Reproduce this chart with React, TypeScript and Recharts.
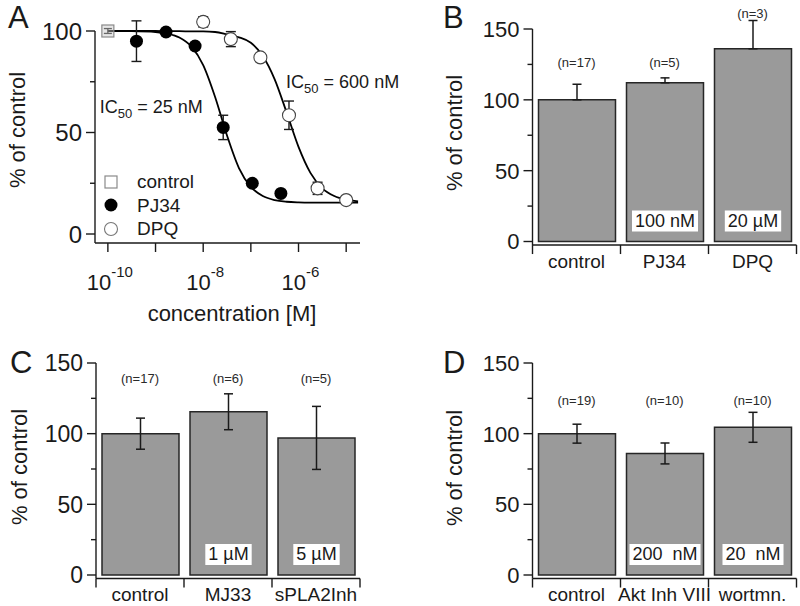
import {
  ComposedChart,
  BarChart,
  Bar,
  Line,
  Scatter,
  XAxis,
  YAxis,
  ErrorBar,
  ReferenceLine,
  ReferenceDot,
  LabelList,
  Legend,
} from "recharts";

const FONT = '"Liberation Sans", Arial, Helvetica, sans-serif';
const INK = "#1a1a1a";

// ---- panel A: concentration-response, x is log10 of molar concentration ----
const controlLogConc = [-10];
const controlPct = [100];
const controlErr = [1.2];

const pj34LogConc = [-9.4, -8.78, -8.17, -7.58, -6.97, -6.37];
const pj34Pct = [95, 99.5, 92.6, 52.5, 25, 20];
const pj34Err = [10, null, null, 6, null, null];

const dpqLogConc = [-8.0, -7.42, -6.8, -6.2, -5.6, -5.0];
const dpqPct = [104.5, 96, 87, 58.5, 22.5, 16.7];
const dpqErr = [2.5, 3.7, null, 7, 3, null];

// fitted curves
const fitLogConc = [-10, -9.5, -9, -8.75, -8.5, -8.25, -8, -7.75, -7.5, -7.25, -7, -6.75, -6.5, -6.25, -6, -5.75, -5.5, -5.25, -5, -4.75];
const pj34Fit = [100, 99.9, 99.5, 98.7, 96.8, 92.4, 83.2, 67.5, 48.5, 32.5, 23.2, 18.7, 16.7, 15.9, 15.6, 15.5, 15.5, 15.5, 15.5, 15.5];
const dpqFit = [100, 100, 100, 99.9, 99.9, 99.8, 99.8, 99.5, 98.3, 96.9, 94.2, 87.7, 76.2, 59.9, 42.9, 30.1, 22.5, 18.7, 16.9, 16.1];

const decadeTicks = [-10, -9, -8, -7, -6, -5];
const pctTicksA = [0, 25, 50, 75, 100];

// ---- panels B, C, D: bar charts (% of control) ----
const bCats = ["control", "PJ34", "DPQ"];
const bPct = [100, 112, 136];
const bErrUp = [11, 3.5, 20];
const bN = ["(n=17)", "(n=5)", "(n=3)"];
const bNAt = [126, 126, 161];
const bDose = ["", "100 nM", "20 µM"];

const cCats = ["control", "MJ33", "sPLA2Inh"];
const cPct = [100, 115.5, 97];
const cErr = [11, 12.7, 22.3];
const cN = ["(n=17)", "(n=6)", "(n=5)"];
const cNAt = [138.7, 138.7, 138.7];
const cDose = ["", "1 µM", "5 µM"];

const dCats = ["control", "Akt Inh VIII", "wortmn."];
const dPct = [100, 86, 104.5];
const dErr = [6.7, 7.4, 10.6];
const dN = ["(n=19)", "(n=10)", "(n=10)"];
const dNAt = [123.8, 123.8, 123.8];
const dDose = ["", "200  nM", "20  nM"];

const pctTicksBar = [0, 25, 50, 75, 100, 125, 150];

const A_X_MIN = -10.27;
const A_X_MAX = -4.71;
const A_Y_MIN = -4.43;
const BAR_Y_MIN = -2.5;

function PctTick(props: any) {
  const { x, y, payload, size } = props;
  const v = payload.value;
  const major = v % 50 === 0;
  return (
    <g>
      <line x1={x} x2={x - (major ? 9 : 5)} y1={y} y2={y} stroke={INK} strokeWidth={1.4} />
      {major && (
        <text x={x - 13} y={y + size * 0.36} textAnchor="end" fontSize={size} fontFamily={FONT} fill={INK}>
          {v}
        </text>
      )}
    </g>
  );
}

function DecadeTick(props: any) {
  const { x, y, payload } = props;
  const e = payload.value;
  return (
    <g>
      <line x1={x} x2={x} y1={y} y2={y + 9} stroke={INK} strokeWidth={1.4} />
      {e % 2 === 0 && (
        <text x={x + 2} y={y + 47} textAnchor="middle" fontFamily={FONT} fill={INK}>
          <tspan fontSize={22}>10</tspan>
          <tspan fontSize={15} dy={-13}>{String(e)}</tspan>
        </text>
      )}
    </g>
  );
}

function CatTick(props: any) {
  const { x, y, payload, index, half, count } = props;
  return (
    <g>
      <line x1={x - half} x2={x - half} y1={y} y2={y + 9} stroke={INK} strokeWidth={1.4} />
      {index === count - 1 && <line x1={x + half} x2={x + half} y1={y} y2={y + 9} stroke={INK} strokeWidth={1.4} />}
      <text x={x} y={y + 22.5} textAnchor="middle" fontSize={19} fontFamily={FONT} fill={INK}>
        {payload.value}
      </text>
    </g>
  );
}

const glyphW: Record<string, number> = { " ": 0.278, n: 0.556, M: 0.833, "µ": 0.576 };
function textWidth(s: string, size: number) {
  let w = 0;
  for (const ch of s) w += glyphW[ch] ?? 0.556;
  return w * size;
}

function DoseLabel(props: any) {
  const { x, y, width, height, value } = props;
  if (!value) return null;
  const cx = x + width / 2;
  const bottom = y + height;
  const w = textWidth(String(value), 18) + 6;
  return (
    <g>
      <rect x={cx - w / 2} y={bottom - 31} width={w} height={21} fill="#ffffff" />
      <text x={cx} y={bottom - 14.5} textAnchor="middle" fontSize={18} fontFamily={FONT} fill={INK} style={{ whiteSpace: "pre" }}>
        {value}
      </text>
    </g>
  );
}

function NText({ x, y, text }: { x: number; y: number; text: string }) {
  return (
    <text x={x} y={y + 4.5} textAnchor="middle" fontSize={13} fontFamily={FONT} fill="#2a2a2a">
      {text}
    </text>
  );
}

function Ic50Text({ x, y, conc }: { x: number; y: number; conc: string }) {
  return (
    <text x={x} y={y} fontSize={18} fontFamily={FONT} fill={INK}>
      IC
      <tspan fontSize={13} dy={5}>50</tspan>
      <tspan dy={-5}>{" = " + conc}</tspan>
    </text>
  );
}

const filledDot = (p: any) => <circle cx={p.cx} cy={p.cy} r={6.5} fill="#000" />;
const openDot = (p: any) => <circle cx={p.cx} cy={p.cy} r={6.5} fill="#fff" stroke="#444" strokeWidth={1.1} />;
const squareDot = (p: any) => (
  <rect x={p.cx - 6} y={p.cy - 6} width={12} height={12} fill="rgba(200,200,200,0.45)" stroke="#8a8a8a" strokeWidth={1.2} />
);

function LegendBox() {
  const rows = [
    { name: "control", sym: <rect x={5} y={5} width={12} height={12} fill="#fff" stroke="#8a8a8a" strokeWidth={1.2} /> },
    { name: "PJ34", sym: <circle cx={11} cy={11} r={6.5} fill="#000" /> },
    { name: "DPQ", sym: <circle cx={11} cy={11} r={6.5} fill="#fff" stroke="#777" strokeWidth={1.1} /> },
  ];
  return (
    <div style={{ fontFamily: FONT, fontSize: 19, color: INK }}>
      {rows.map((r) => (
        <div key={r.name} style={{ display: "flex", alignItems: "center", height: 23.5 }}>
          <svg width={22} height={22} style={{ display: "block" }}>
            {r.sym}
          </svg>
          <span style={{ marginLeft: 15, lineHeight: "19px" }}>{r.name}</span>
        </div>
      ))}
    </div>
  );
}

function DoseResponse() {
  const pts = (xs: number[], ys: number[], es: (number | null)[]) =>
    xs.map((x, i) => ({ x, y: ys[i], e: es[i] }));
  const controlRows = pts(controlLogConc, controlPct, controlErr);
  const pj34Rows = pts(pj34LogConc, pj34Pct, pj34Err);
  const dpqRows = pts(dpqLogConc, dpqPct, dpqErr);
  const pj34Curve = fitLogConc.map((x, i) => ({ x, y: pj34Fit[i] }));
  const dpqCurve = fitLogConc.map((x, i) => ({ x, y: dpqFit[i] }));

  return (
    <ComposedChart width={400} height={300} margin={{ top: 10.7, right: 40, bottom: 37, left: 35 }}>
      <XAxis
        type="number"
        dataKey="x"
        domain={[A_X_MIN, A_X_MAX]}
        ticks={decadeTicks}
        interval={0}
        height={20}
        tickLine={false}
        tickSize={0}
        tickMargin={0}
        axisLine={{ stroke: INK, strokeWidth: 1.4 }}
        tick={(p: any) => <DecadeTick {...p} />}
      />
      <YAxis
        type="number"
        dataKey="y"
        domain={[A_Y_MIN, 110]}
        ticks={pctTicksA}
        interval={0}
        width={60}
        axisLine={false}
        tickLine={false}
        tickSize={0}
        tickMargin={0}
        tick={(p: any) => <PctTick {...p} size={24} />}
      />
      <ReferenceLine
        segment={[
          { x: A_X_MIN, y: A_Y_MIN },
          { x: A_X_MIN, y: 100 },
        ]}
        stroke={INK}
        strokeWidth={1.4}
        ifOverflow="visible"
      />
      <Line data={dpqCurve} dataKey="y" type="monotone" dot={false} stroke="#000" strokeWidth={1.8} isAnimationActive={false} />
      <Line data={pj34Curve} dataKey="y" type="monotone" dot={false} stroke="#000" strokeWidth={1.8} isAnimationActive={false} />
      <Scatter data={controlRows} dataKey="y" shape={squareDot} isAnimationActive={false}>
        <ErrorBar dataKey="e" direction="y" width={4} stroke={INK} strokeWidth={1.3} />
      </Scatter>
      <Scatter data={pj34Rows} dataKey="y" shape={filledDot} isAnimationActive={false}>
        <ErrorBar dataKey="e" direction="y" width={5} stroke={INK} strokeWidth={1.4} />
      </Scatter>
      <Scatter data={dpqRows} dataKey="y" shape={openDot} isAnimationActive={false}>
        <ErrorBar dataKey="e" direction="y" width={5} stroke={INK} strokeWidth={1.4} />
      </Scatter>
      <ReferenceDot
        x={-6.26}
        y={71.9}
        r={0}
        ifOverflow="visible"
        label={(p: any) => <Ic50Text x={p.viewBox.x} y={p.viewBox.y} conc="600 nM" />}
      />
      <ReferenceDot
        x={-10.17}
        y={59.6}
        r={0}
        ifOverflow="visible"
        label={(p: any) => <Ic50Text x={p.viewBox.x} y={p.viewBox.y} conc="25 nM" />}
      />
      <Legend
        layout="vertical"
        align="center"
        verticalAlign="middle"
        wrapperStyle={{ left: 100, top: 170, width: 120 }}
        content={() => <LegendBox />}
      />
    </ComposedChart>
  );
}

interface BarPanelProps {
  height: number;
  margin: { top: number; right: number; bottom: number; left: number };
  cats: string[];
  pct: number[];
  err: (number | number[])[];
  nLabels: string[];
  nAt: number[];
  dose: string[];
  tickSize: number;
}

function BarPanel({ height, margin, cats, pct, err, nLabels, nAt, dose, tickSize }: BarPanelProps) {
  const rows = cats.map((cat, i) => ({ cat, pct: pct[i], err: err[i], dose: dose[i] }));
  const half = (400 - margin.left - 60 - margin.right) / cats.length / 2;
  return (
    <BarChart width={400} height={height} data={rows} margin={margin} barSize={77}>
      <XAxis
        dataKey="cat"
        interval={0}
        height={20}
        tickLine={false}
        tickSize={0}
        tickMargin={0}
        axisLine={{ stroke: INK, strokeWidth: 1.4 }}
        tick={(p: any) => <CatTick {...p} half={half} count={cats.length} />}
      />
      <YAxis
        type="number"
        domain={[BAR_Y_MIN, 165]}
        ticks={pctTicksBar}
        interval={0}
        width={60}
        axisLine={false}
        tickLine={false}
        tickSize={0}
        tickMargin={0}
        tick={(p: any) => <PctTick {...p} size={tickSize} />}
      />
      <ReferenceLine
        segment={[
          { x: cats[0], y: BAR_Y_MIN },
          { x: cats[0], y: 150 },
        ]}
        position="start"
        stroke={INK}
        strokeWidth={1.4}
        ifOverflow="visible"
      />
      <Bar dataKey="pct" fill="#9a9a9a" stroke="#262626" strokeWidth={1.5} isAnimationActive={false}>
        <ErrorBar dataKey="err" direction="y" width={4.5} stroke={INK} strokeWidth={1.5} />
        <LabelList dataKey="dose" content={(p: any) => <DoseLabel {...p} />} />
      </Bar>
      {cats.map((c, i) => (
        <ReferenceDot
          key={c}
          x={c}
          y={nAt[i]}
          r={0}
          ifOverflow="visible"
          label={(p: any) => <NText x={p.viewBox.x} y={p.viewBox.y} text={nLabels[i]} />}
        />
      ))}
    </BarChart>
  );
}

function Overlay() {
  const letter = { fontSize: 31, fontFamily: FONT, fill: INK };
  const title = { fontSize: 22, fontFamily: FONT, fill: INK, textAnchor: "middle" as const };
  return (
    <svg width={800} height={606} style={{ position: "absolute", left: 0, top: 0, pointerEvents: "none" }}>
      <text x={8} y={28} {...letter}>A</text>
      <text x={443} y={28} {...letter}>B</text>
      <text x={10} y={373} {...letter}>C</text>
      <text x={443} y={373} {...letter}>D</text>
      <text transform="translate(25,130) rotate(-90)" {...title}>% of control</text>
      <text transform="translate(462,133) rotate(-90)" {...title}>% of control</text>
      <text transform="translate(27,467) rotate(-90)" {...title}>% of control</text>
      <text transform="translate(462,468) rotate(-90)" {...title}>% of control</text>
      <text x={232} y={321} {...title}>concentration [M]</text>
    </svg>
  );
}

export default function App() {
  const bErr = bErrUp.map((u) => [0, u]);
  return (
    <div style={{ position: "absolute", left: 0, top: 0, width: 800, height: 606, background: "#fff", overflow: "hidden" }}>
      <div style={{ position: "absolute", left: 0, top: 0 }}>
        <DoseResponse />
      </div>
      <div style={{ position: "absolute", left: 400, top: 0 }}>
        <BarPanel
          height={300}
          margin={{ top: 7.75, right: 3.5, bottom: 34.96, left: 72.5 }}
          cats={bCats}
          pct={bPct}
          err={bErr}
          nLabels={bN}
          nAt={bNAt}
          dose={bDose}
          tickSize={22}
        />
      </div>
      <div style={{ position: "absolute", left: 0, top: 300 }}>
        <BarPanel
          height={306}
          margin={{ top: 41.8, right: 40, bottom: 7.47, left: 36 }}
          cats={cCats}
          pct={cPct}
          err={cErr}
          nLabels={cN}
          nAt={cNAt}
          dose={cDose}
          tickSize={23}
        />
      </div>
      <div style={{ position: "absolute", left: 400, top: 300 }}>
        <BarPanel
          height={306}
          margin={{ top: 41.8, right: 3.5, bottom: 7.47, left: 72.5 }}
          cats={dCats}
          pct={dPct}
          err={dErr}
          nLabels={dN}
          nAt={dNAt}
          dose={dDose}
          tickSize={22}
        />
      </div>
      <Overlay />
    </div>
  );
}
